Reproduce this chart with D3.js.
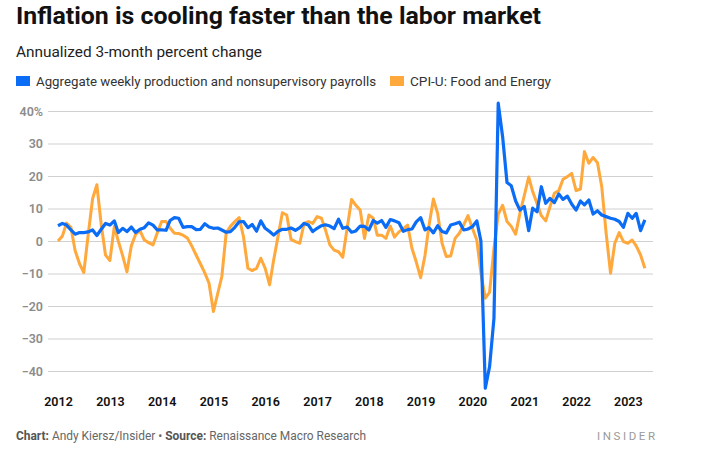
<!DOCTYPE html>
<html>
<head>
<meta charset="utf-8">
<script src="https://cdn.jsdelivr.net/npm/d3@7/dist/d3.min.js"></script>
<style>
  html, body { margin: 0; padding: 0; background: #fff; }
  svg { display: block; font-family: Roboto, "Open Sans", sans-serif; }
</style>
</head>
<body>
<svg id="chart" width="719" height="459"></svg>
<script>
// ---- Data (monthly, Jan 2012 – May 2023) ----
const startMonth = "2012-01";
const payrolls = [
  4.7, 5.4, 4.9, 3.4, 2.1, 2.6, 2.6, 2.8, 3.4, 1.7, 3.6, 5.4,
  4.9, 6.2, 2.6, 3.9, 2.9, 4.3, 2.6, 3.6, 4.1, 5.6, 4.9, 3.4,
  3.4, 3.3, 6.3, 7.2, 7.0, 4.2, 4.4, 4.4, 3.5, 3.6, 5.3, 4.3,
  3.9, 4.0, 3.4, 2.7, 2.9, 4.2, 5.9, 6.0, 4.1, 5.1, 3.0, 6.2,
  3.9, 2.9, 1.8, 3.0, 3.6, 3.6, 4.0, 3.3, 4.1, 5.4, 4.9, 2.9,
  3.9, 4.7, 5.0, 4.6, 3.8, 6.7, 3.9, 4.3, 2.7, 3.1, 4.6, 4.5,
  3.4, 6.3, 5.5, 6.3, 4.2, 6.6, 6.2, 5.6, 3.0, 3.5, 3.7, 5.9,
  7.2, 3.4, 4.1, 2.5, 4.7, 2.9, 2.5, 4.9, 5.3, 5.8, 3.4, 3.7,
  4.4, 6.2, 0.0, -45.3, -38.7, -23.8, 42.4, 32.1, 18.0, 17.0, 12.3, 9.5,
  10.6, 3.2, 10.1, 9.0, 16.7, 11.6, 13.1, 11.8, 14.5, 12.8, 13.8, 11.4,
  9.5, 12.3, 11.1, 12.6, 8.3, 9.3, 8.0, 7.5, 7.0, 6.7, 6.0, 4.2,
  8.5, 7.0, 8.5, 3.2, 6.5
];
const cpiFoodEnergy = [
  0.0, 1.5, 5.5, 4.2, -3.0, -7.0, -9.7, 2.0, 13.0, 17.3, 5.0, -4.3,
  -6.0, 4.5, 0.0, -4.5, -9.5, -1.5, 2.0, 3.2, 0.3, -0.5, -1.2, 2.5,
  6.0, 6.0, 4.0, 2.4, 2.3, 1.8, 0.9, -1.5, -4.3, -7.0, -9.8, -13.0,
  -21.7, -16.0, -11.0, 2.5, 4.5, 6.0, 7.2, 1.3, -8.4, -9.1, -8.4, -5.3,
  -8.4, -13.5, -5.8, 1.5, 8.7, 8.0, 0.5, -0.2, -0.7, 5.4, 6.0, 5.4,
  7.5, 7.0, 3.4, -1.2, -2.8, -3.3, -5.0, 4.0, 12.8, 11.0, 9.5, 0.8,
  8.0, 7.0, 1.8, 1.8, 0.8, 4.6, 1.2, 2.8, 3.8, 4.9, -2.3, -6.4,
  -11.3, -4.4, 4.8, 12.9, 8.5, -0.7, -4.8, -4.6, 0.8, 2.4, 5.0, 7.8,
  3.9, 0.3, -9.9, -17.6, -15.8, -2.3, 8.2, 11.0, 6.0, 4.5, 2.1, 8.5,
  14.0, 19.7, 15.2, 11.5, 7.8, 6.2, 10.5, 14.7, 15.5, 19.0, 19.8, 20.8,
  15.5, 16.0, 27.5, 23.9, 25.7, 24.1, 16.7, 2.4, -9.9, -0.7, 2.6, -0.2,
  -0.7, 0.3, -1.5, -4.3, -8.4
];
const yTicks = [-40, -30, -20, -10, 0, 10, 20, 30, 40];
const xTickYears = [2012, 2013, 2014, 2015, 2016, 2017, 2018, 2019, 2020, 2021, 2022, 2023];
const seriesNames = ["Aggregate weekly production and nonsupervisory payrolls", "CPI-U: Food and Energy"];
const seriesColors = ["#0b6cf5", "#ffa83c"];

// ---- Build ----
const svg = d3.select("#chart");
const parse = d3.timeParse("%Y-%m");
const t0 = parse(startMonth);
const dates = payrolls.map((_, i) => d3.timeMonth.offset(t0, i));

const x = d3.scaleTime()
  .domain([new Date(2012, 0, 1), new Date(2024, 0, 1)])
  .range([58, 58 + 12 * 51.8]);
const y = d3.scaleLinear().domain([-40, 40]).range([371, 111]);

const gridLeft = 48, gridRight = 653;

// Header
function fitText(sel, w) {
  sel.attr("textLength", w).attr("lengthAdjust", "spacingAndGlyphs");
}
svg.append("text").attr("x", 16).attr("y", 24)
  .attr("font-size", 23).attr("font-weight", 700).attr("fill", "#111")
  .text("Inflation is cooling faster than the labor market")
  .call(fitText, 525);
svg.append("text").attr("x", 16).attr("y", 57)
  .attr("font-size", 14.5).attr("font-weight", 400).attr("fill", "#222")
  .text("Annualized 3-month percent change")
  .call(fitText, 246);

// Legend
const legendPos = [{rx: 16, tx: 36, w: 340}, {rx: 390, tx: 410, w: 141}];
seriesNames.forEach((name, i) => {
  svg.append("rect").attr("x", legendPos[i].rx).attr("y", 76)
    .attr("width", 14).attr("height", 10).attr("fill", seriesColors[i]);
  svg.append("text").attr("x", legendPos[i].tx).attr("y", 86)
    .attr("font-size", 13).attr("fill", "#333").text(name)
    .call(fitText, legendPos[i].w);
});

// Y axis with gridlines
const fmtY = v => v === 40 ? "40%" : (v < 0 ? "\u2212" + Math.abs(v) : String(v));
const yAxis = svg.append("g").attr("transform", `translate(${gridLeft},0)`)
  .call(d3.axisLeft(y).tickValues(yTicks).tickSize(-(gridRight - gridLeft)).tickPadding(5).tickFormat(fmtY));
yAxis.select(".domain").remove();
yAxis.selectAll(".tick line").attr("stroke", "#d0d0d0").attr("stroke-width", 1);
yAxis.selectAll(".tick text").attr("fill", "#8c8c8c").attr("font-size", 12.5)
  .attr("font-weight", 600).attr("font-family", "Roboto, sans-serif");

// X axis
const xAxis = svg.append("g").attr("transform", "translate(0,389)")
  .call(d3.axisBottom(x).tickValues(xTickYears.map(yr => new Date(yr, 0, 1)))
    .tickSize(0).tickPadding(8).tickFormat(d3.timeFormat("%Y")));
xAxis.select(".domain").remove();
xAxis.selectAll(".tick text").attr("fill", "#111").attr("font-size", 12.5)
  .attr("font-weight", 600).attr("font-family", "Roboto, sans-serif");

// Lines
const line = d3.line().x((d, i) => x(dates[i])).y(d => y(d));
svg.append("path").datum(cpiFoodEnergy).attr("d", line)
  .attr("fill", "none").attr("stroke", seriesColors[1]).attr("stroke-width", 3)
  .attr("stroke-linejoin", "round");
svg.append("path").datum(payrolls).attr("d", line)
  .attr("fill", "none").attr("stroke", seriesColors[0]).attr("stroke-width", 3.2)
  .attr("stroke-linejoin", "round");

// Footer
const foot = svg.append("text").attr("x", 16).attr("y", 440)
  .attr("font-size", 12).attr("fill", "#666");
foot.append("tspan").attr("font-weight", 700).attr("fill", "#555").text("Chart: ");
foot.append("tspan").text("Andy Kiersz/Insider \u2022 ");
foot.append("tspan").attr("font-weight", 700).attr("fill", "#555").text("Source: ");
foot.append("tspan").text("Renaissance Macro Research");
foot.call(fitText, 350);
svg.append("text").attr("x", 597).attr("y", 440)
  .attr("font-size", 11.5).attr("fill", "#9a9a9a").attr("letter-spacing", 2.6)
  .text("INSIDER");
</script>
</body>
</html>
